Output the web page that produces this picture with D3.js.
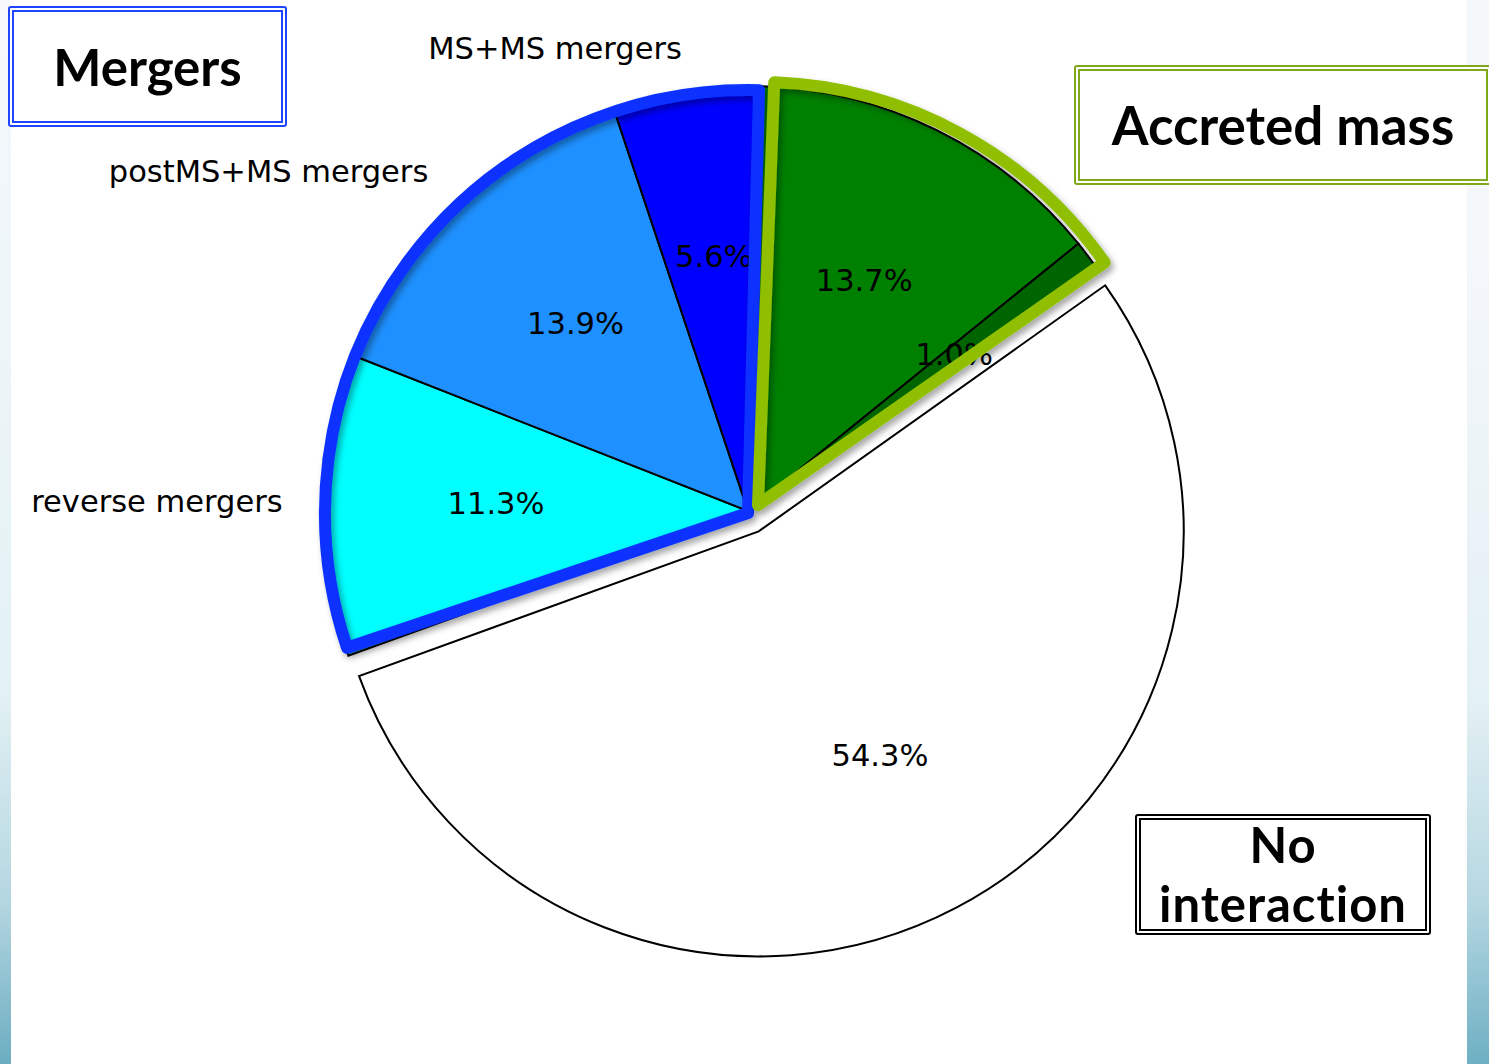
<!DOCTYPE html>
<html>
<head>
<meta charset="utf-8">
<script src="https://cdn.jsdelivr.net/npm/d3@7/dist/d3.min.js"></script>
<style>
  html, body { margin: 0; padding: 0; background: #fff; }
  svg { display: block; }
</style>
</head>
<body>
<svg id="chart" width="1489" height="1064"></svg>
<script>
// Slice data, clockwise from the lower-left edge of the pie
const sliceNames  = ["other", "reverse", "postMS_MS", "MS_MS", "accreted", "accreted_small", "none"];
const sliceLabels = ["", "reverse mergers", "postMS+MS mergers", "MS+MS mergers", "", "", ""];
const sliceValues = [0.2, 11.3, 13.9, 5.6, 13.7, 1.0, 54.3];
const sliceColors = ["#20b2aa", "#00ffff", "#1e90ff", "#0000ff", "#008000", "#006400", "#ffffff"];
const sliceExplode = [0, 0, 0, 0, 0, 0, 23];

// Annotation groups drawn around sets of slices
const groupMergers  = ["reverse", "postMS_MS", "MS_MS"];
const groupAccreted = ["accreted", "accreted_small"];

const boxTitles = ["Mergers", "Accreted mass", "No interaction"];

const svg = d3.select("#chart");
const W = 1489, H = 1064;
const cx = 748, cy = 511, R = 425;
const deg = Math.PI / 180;

// ---- page background: white panel with pale blue side strips ----
const defs = svg.append("defs");
const gradR = defs.append("linearGradient").attr("id", "stripR").attr("x1", 0).attr("y1", 0).attr("x2", 0).attr("y2", 1);
gradR.append("stop").attr("offset", "0%").attr("stop-color", "#f4f7fb");
gradR.append("stop").attr("offset", "55%").attr("stop-color", "#e3f0f4");
gradR.append("stop").attr("offset", "80%").attr("stop-color", "#b5d7e1");
gradR.append("stop").attr("offset", "100%").attr("stop-color", "#6eafc3");
const gradL = defs.append("linearGradient").attr("id", "stripL").attr("x1", 0).attr("y1", 0).attr("x2", 0).attr("y2", 1);
gradL.append("stop").attr("offset", "0%").attr("stop-color", "#f6f9fc");
gradL.append("stop").attr("offset", "65%").attr("stop-color", "#e3f1f4");
gradL.append("stop").attr("offset", "85%").attr("stop-color", "#b3d6e0");
gradL.append("stop").attr("offset", "100%").attr("stop-color", "#6cadc1");

const shadow = defs.append("filter").attr("id", "shadow")
  .attr("x", "-10%").attr("y", "-10%").attr("width", "120%").attr("height", "120%");
shadow.append("feDropShadow").attr("dx", 3).attr("dy", 4).attr("stdDeviation", 3)
  .attr("flood-color", "#000").attr("flood-opacity", 0.35);

svg.append("rect").attr("width", W).attr("height", H).attr("fill", "#fff");
svg.append("rect").attr("x", 0).attr("y", 0).attr("width", 11).attr("height", H).attr("fill", "url(#stripL)");
svg.append("rect").attr("x", 1467).attr("y", 0).attr("width", 22).attr("height", 262).attr("fill", "#f5f8fb");
svg.append("rect").attr("x", 1467).attr("y", 262).attr("width", 22).attr("height", H - 262).attr("fill", "url(#stripR)");

// ---- pie ----
const startA = -109.9 * deg;
const pie = d3.pie().sort(null).value(d => d.value)
  .startAngle(startA).endAngle(startA + 2 * Math.PI);

const rows = sliceNames.map((n, i) => ({
  name: n, label: sliceLabels[i], value: sliceValues[i],
  color: sliceColors[i], explode: sliceExplode[i]
}));
const arcs = pie(rows);

const arc = d3.arc().innerRadius(0).outerRadius(R);
const offset = a => {
  const m = (a.startAngle + a.endAngle) / 2;
  return [Math.sin(m) * a.data.explode, -Math.cos(m) * a.data.explode];
};
const polar = (a, r) => {
  const m = (a.startAngle + a.endAngle) / 2;
  const [ox, oy] = offset(a);
  return [cx + ox + Math.sin(m) * r, cy + oy - Math.cos(m) * r];
};

const gPie = svg.append("g");
gPie.selectAll("path.wedge").data(arcs).join("path")
  .attr("class", "wedge")
  .attr("transform", d => { const [ox, oy] = offset(d); return `translate(${cx + ox},${cy + oy})`; })
  .attr("d", arc)
  .attr("fill", d => d.data.color)
  .attr("stroke", "#000")
  .attr("stroke-width", 2)
  .attr("stroke-linejoin", "miter");

// category labels outside the pie
const labelFont = "'DejaVu Sans', sans-serif";
const labelSize = 30.5;
gPie.selectAll("text.cat").data(arcs.filter(d => d.data.label)).join("text")
  .attr("class", "cat")
  .each(function (d) {
    const [x, y] = polar(d, 1.1 * R);
    d3.select(this).attr("x", x + 2).attr("y", y)
      .attr("text-anchor", x < cx ? "end" : "start");
  })
  .attr("dominant-baseline", "central")
  .attr("font-family", labelFont)
  .attr("font-size", labelSize)
  .attr("fill", "#000")
  .text(d => d.data.label);

// percentage labels inside the wedges
const fmt = v => d3.format(".1f")(v) + "%";
gPie.selectAll("text.pct").data(arcs.filter(d => d.data.value >= 0.5)).join("text")
  .attr("class", "pct")
  .each(function (d) {
    const [x, y] = polar(d, 0.6 * R);
    d3.select(this).attr("x", x + 3).attr("y", y - 2);
  })
  .attr("text-anchor", "middle")
  .attr("dominant-baseline", "central")
  .attr("font-family", labelFont)
  .attr("font-size", labelSize)
  .attr("fill", "#000")
  .text(d => fmt(d.data.value));

// ---- group outlines ----
function groupSpan(names) {
  const sel = arcs.filter(a => names.includes(a.data.name));
  return [d3.min(sel, a => a.startAngle), d3.max(sel, a => a.endAngle)];
}
function outline(names, color, dx, dy, pad0, pad1) {
  const [a0, a1] = groupSpan(names);
  const outlineArc = d3.arc().innerRadius(0).outerRadius(R - 2)
    .startAngle(a0 + pad0 * deg).endAngle(a1 + pad1 * deg);
  svg.append("path")
    .attr("transform", `translate(${cx + dx},${cy + dy})`)
    .attr("d", outlineArc())
    .attr("fill", "none")
    .attr("stroke", color)
    .attr("stroke-width", 12)
    .attr("stroke-linejoin", "round")
    .attr("filter", "url(#shadow)");
}
outline(groupMergers, "#0a33ff", 0, 2, 0.6, -0.2);
outline(groupAccreted, "#8fbf00", 10, -6, 0.5, 0.4);

// ---- titled boxes with double borders ----
const boxes = [
  { x: 8, y: 6, w: 279, h: 121, color: "#1f45ff", lines: [boxTitles[0]], size: 51, ls: 0, base: [86] },
  { x: 1074, y: 65, w: 418, h: 120, color: "#7fa81a", lines: [boxTitles[1]], size: 53, ls: 0, base: [145] },
  { x: 1135, y: 814, w: 296, h: 121, color: "#000", lines: ["No", "interaction"], size: 49, ls: 1, base: [863, 922] }
];
const titleFont = "Lato, 'Open Sans', sans-serif";
boxes.forEach((b, i) => {
  const g = svg.append("g");
  g.append("rect").attr("x", b.x + 1).attr("y", b.y + 1).attr("width", b.w - 2).attr("height", b.h - 2)
    .attr("rx", 2).attr("fill", "#fff").attr("stroke", b.color).attr("stroke-width", 2);
  g.append("rect").attr("x", b.x + 5).attr("y", b.y + 5).attr("width", b.w - 10).attr("height", b.h - 10)
    .attr("fill", "none").attr("stroke", b.color).attr("stroke-width", 2);
  b.lines.forEach((t, j) => {
    g.append("text")
      .attr("x", b.x + (i === 1 ? 209 : b.w / 2))
      .attr("y", b.base[j])
      .attr("text-anchor", "middle")
      .attr("font-family", titleFont)
      .attr("font-weight", 700)
      .attr("font-size", b.size)
      .attr("letter-spacing", b.ls)
      .attr("fill", "#000")
      .text(t);
  });
});
</script>
</body>
</html>
